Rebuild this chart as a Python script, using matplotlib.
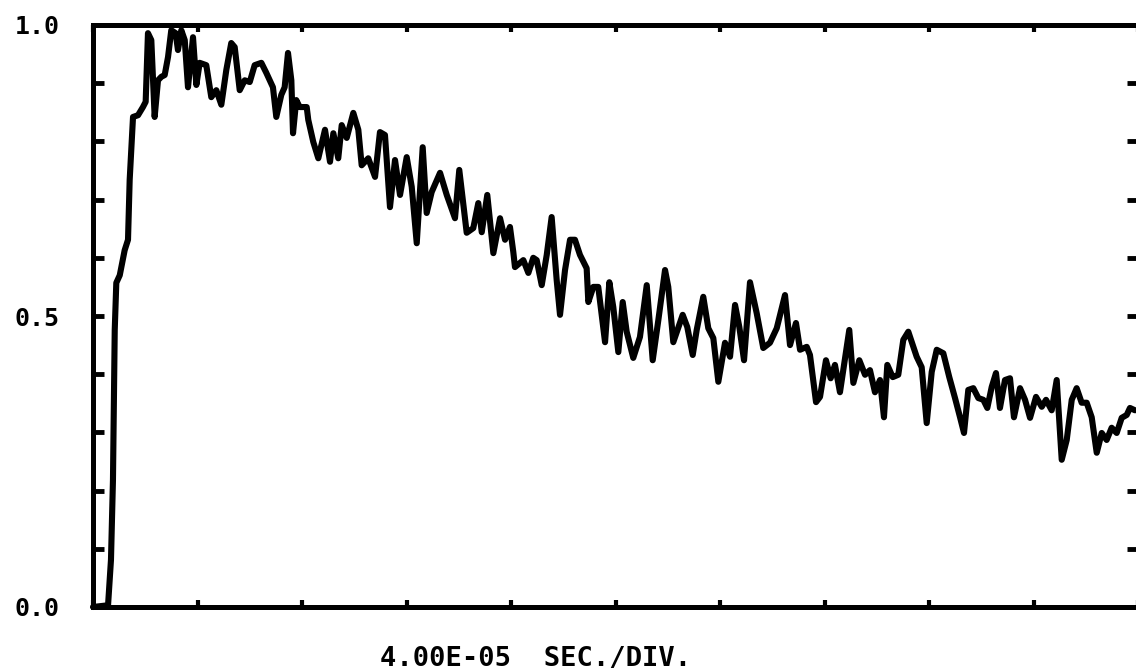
import matplotlib
matplotlib.use("Agg")
import matplotlib.pyplot as plt
from matplotlib.ticker import FixedLocator, FixedFormatter

# time in divisions (4.00E-05 s/div), signal normalised 0..1
t_div = [0.000, 0.144, 0.172, 0.191, 0.208, 0.223, 0.256, 0.303, 0.335, 0.351,
         0.376, 0.383, 0.431, 0.478, 0.504, 0.526, 0.558, 0.590, 0.622, 0.654,
         0.686, 0.718, 0.749, 0.791, 0.813, 0.845, 0.878, 0.909, 0.957, 0.989,
         1.021, 1.084, 1.132, 1.180, 1.228, 1.276, 1.323, 1.356, 1.404, 1.452,
         1.500, 1.547, 1.611, 1.658, 1.722, 1.754, 1.802, 1.834, 1.866, 1.898,
         1.914, 1.945, 1.978, 2.045, 2.060, 2.108, 2.156, 2.220, 2.268, 2.300,
         2.347, 2.380, 2.428, 2.491, 2.539, 2.571, 2.634, 2.699, 2.746, 2.794,
         2.842, 2.890, 2.938, 3.002, 3.050, 3.098, 3.155, 3.193, 3.241, 3.321,
         3.385, 3.464, 3.505, 3.576, 3.639, 3.687, 3.720, 3.773, 3.831, 3.895,
         3.943, 3.990, 4.022, 4.038, 4.118, 4.166, 4.213, 4.246, 4.294, 4.342,
         4.389, 4.437, 4.469, 4.517, 4.565, 4.612, 4.660, 4.724, 4.740, 4.788,
         4.835, 4.900, 4.941, 4.979, 5.027, 5.069, 5.107, 5.170, 5.234, 5.299,
         5.356, 5.410, 5.474, 5.505, 5.553, 5.643, 5.687, 5.739, 5.777, 5.840,
         5.888, 5.936, 5.984, 6.048, 6.096, 6.144, 6.185, 6.230, 6.287, 6.351,
         6.414, 6.478, 6.543, 6.622, 6.670, 6.727, 6.766, 6.830, 6.861, 6.919,
         6.957, 7.014, 7.059, 7.100, 7.148, 7.237, 7.276, 7.333, 7.388, 7.435,
         7.483, 7.531, 7.569, 7.601, 7.653, 7.706, 7.754, 7.802, 7.850, 7.882,
         7.930, 7.978, 8.026, 8.074, 8.137, 8.194, 8.249, 8.297, 8.335, 8.376,
         8.424, 8.472, 8.520, 8.558, 8.600, 8.641, 8.679, 8.727, 8.775, 8.813,
         8.871, 8.919, 8.967, 9.024, 9.079, 9.120, 9.174, 9.222, 9.270, 9.318,
         9.366, 9.413, 9.461, 9.509, 9.557, 9.605, 9.653, 9.700, 9.748, 9.796,
         9.844, 9.892, 9.923, 9.971]

signal = [0.000, 0.003, 0.081, 0.218, 0.476, 0.557, 0.570, 0.613, 0.631, 0.734,
          0.820, 0.842, 0.845, 0.859, 0.868, 0.986, 0.974, 0.842, 0.905, 0.911,
          0.914, 0.945, 0.991, 0.986, 0.957, 0.991, 0.974, 0.893, 0.979, 0.897,
          0.935, 0.931, 0.876, 0.888, 0.863, 0.923, 0.969, 0.962, 0.888, 0.905,
          0.902, 0.931, 0.935, 0.918, 0.893, 0.842, 0.880, 0.893, 0.952, 0.905,
          0.814, 0.871, 0.859, 0.859, 0.837, 0.799, 0.771, 0.820, 0.765, 0.814,
          0.771, 0.828, 0.806, 0.849, 0.820, 0.759, 0.771, 0.739, 0.816, 0.811,
          0.687, 0.768, 0.708, 0.773, 0.722, 0.625, 0.790, 0.677, 0.713, 0.746,
          0.708, 0.668, 0.751, 0.643, 0.651, 0.694, 0.644, 0.708, 0.608, 0.668,
          0.631, 0.653, 0.610, 0.584, 0.596, 0.574, 0.600, 0.596, 0.553, 0.605,
          0.670, 0.562, 0.502, 0.579, 0.631, 0.631, 0.605, 0.582, 0.524, 0.550,
          0.550, 0.455, 0.558, 0.515, 0.438, 0.524, 0.473, 0.428, 0.464, 0.553,
          0.424, 0.493, 0.579, 0.550, 0.455, 0.502, 0.481, 0.433, 0.476, 0.533,
          0.479, 0.462, 0.387, 0.454, 0.430, 0.519, 0.481, 0.424, 0.558, 0.505,
          0.445, 0.454, 0.479, 0.536, 0.450, 0.488, 0.442, 0.447, 0.433, 0.352,
          0.361, 0.424, 0.393, 0.416, 0.369, 0.476, 0.385, 0.424, 0.399, 0.407,
          0.369, 0.390, 0.326, 0.416, 0.395, 0.399, 0.459, 0.473, 0.447, 0.430,
          0.412, 0.316, 0.404, 0.442, 0.436, 0.395, 0.359, 0.326, 0.299, 0.373,
          0.376, 0.359, 0.356, 0.342, 0.378, 0.402, 0.342, 0.390, 0.393, 0.326,
          0.376, 0.356, 0.325, 0.361, 0.344, 0.356, 0.338, 0.390, 0.253, 0.287,
          0.356, 0.376, 0.351, 0.351, 0.326, 0.265, 0.299, 0.287, 0.308, 0.299,
          0.325, 0.330, 0.342, 0.338]

y_ticks = [0.0, 0.1, 0.2, 0.3, 0.4, 0.5, 0.6, 0.7, 0.8, 0.9, 1.0]
y_tick_labels = ["0.0", "", "", "", "", "0.5", "", "", "", "", "1.0"]
x_ticks = [0, 1, 2, 3, 4, 5, 6, 7, 8, 9, 10]
x_label = "4.00E-05  SEC./DIV."

W, H = 1136, 671
fig = plt.figure(figsize=(W / 100, H / 100), dpi=100)
left, right, bottom, top = 93, 1138, 607, 25
ax = fig.add_axes([left / W, (H - bottom) / H, (right - left) / W, (bottom - top) / H])

ax.plot(t_div, signal, color="black", lw=4.4, solid_joinstyle="round",
        solid_capstyle="round", clip_on=False)

ax.set_xlim(0, 10)
ax.set_ylim(0, 1)

for s in ax.spines.values():
    s.set_linewidth(3.6)
    s.set_color("black")

ax.xaxis.set_major_locator(FixedLocator(x_ticks))
ax.xaxis.set_major_formatter(FixedFormatter([""] * len(x_ticks)))
ax.tick_params(axis="x", which="major", direction="in", length=5, width=3,
               top=True, bottom=True, labelbottom=False)

ax.yaxis.set_major_locator(FixedLocator(y_ticks))
ax.yaxis.set_major_formatter(FixedFormatter(y_tick_labels))
ax.tick_params(axis="y", which="major", direction="in", length=8, width=3.5,
               left=True, right=True, pad=24)
for lab in ax.get_yticklabels():
    lab.set_fontfamily("DejaVu Sans Mono")
    lab.set_fontweight("bold")
    lab.set_fontsize(18)

fig.text(536 / W, 1 - 659 / H, x_label, ha="center", va="center",
         fontfamily="DejaVu Sans Mono", fontweight="bold", fontsize=19.5)

fig.savefig("out.png", dpi=100, facecolor="white")
